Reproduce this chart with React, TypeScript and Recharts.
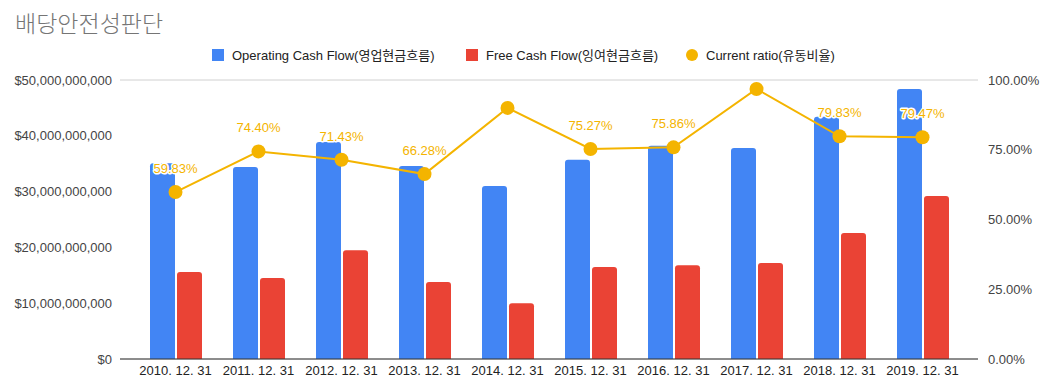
import React from 'react';
import { ComposedChart, Bar, Line, XAxis, YAxis, CartesianGrid, LabelList } from 'recharts';

const categories = ['2010. 12. 31', '2011. 12. 31', '2012. 12. 31', '2013. 12. 31', '2014. 12. 31', '2015. 12. 31', '2016. 12. 31', '2017. 12. 31', '2018. 12. 31', '2019. 12. 31'];
const operatingCashFlow = [35.1e9, 34.4e9, 38.9e9, 34.6e9, 31.0e9, 35.7e9, 38.2e9, 37.8e9, 43.4e9, 48.4e9];
const freeCashFlow = [15.6e9, 14.5e9, 19.5e9, 13.8e9, 10.0e9, 16.5e9, 16.8e9, 17.2e9, 22.6e9, 29.2e9];
const currentRatio = [59.83, 74.40, 71.43, 66.28, 90.0, 75.27, 75.86, 96.8, 79.83, 79.47];
const ratioLabels: (string | null)[] = ['59.83%', '74.40%', '71.43%', '66.28%', null, '75.27%', '75.86%', null, '79.83%', '79.47%'];
const leftTicks = [0, 10e9, 20e9, 30e9, 40e9, 50e9];
const rightTicks = [0, 25, 50, 75, 100];

const seriesNames = ['Operating Cash Flow(영업현금흐름)', 'Free Cash Flow(잉여현금흐름)', 'Current ratio(유동비율)'];
const BLUE = '#4285f4';
const RED = '#ea4335';
const YELLOW = '#f4b400';
const FONT = "'Liberation Sans', Arial, 'Noto Sans CJK KR', sans-serif";

const data = categories.map((c, i) => ({
  name: c,
  ocf: operatingCashFlow[i],
  fcf: freeCashFlow[i],
  ratio: currentRatio[i],
}));

const fmtMoney = (v: number) => '$' + v.toLocaleString('en-US');
const fmtPct = (v: number) => v.toFixed(2) + '%';

const RatioLabel = (props: any) => {
  const { x, y, index } = props;
  const text = ratioLabels[index];
  if (!text) return null;
  return (
    <text x={x} y={y - 19} textAnchor="middle" fill={YELLOW} fontSize={13} fontFamily={FONT}
      stroke="#fff" strokeWidth={3} paintOrder="stroke" strokeLinejoin="round">
      {text}
    </text>
  );
};

const legendItem = (color: string, round: boolean, label: string, left: number) => (
  <div style={{ position: 'absolute', left, top: 0, display: 'flex', alignItems: 'center', whiteSpace: 'nowrap' }}>
    <span style={{ width: 12, height: 12, background: color, borderRadius: round ? '50%' : 0, display: 'inline-block', marginRight: 8 }} />
    <span>{label}</span>
  </div>
);

export default function App() {
  return (
    <div style={{ position: 'absolute', left: 0, top: 0, width: 1046, height: 383, background: '#fff' }}>
      <div style={{ position: 'absolute', left: 15, top: 5, fontFamily: "'Noto Sans CJK KR', sans-serif", fontWeight: 300, fontSize: 23, color: '#757575' }}>배당안전성판단</div>
      <div style={{ position: 'absolute', left: 0, top: 45, width: 1046, height: 18, fontFamily: FONT, fontSize: 13, color: '#222' }}>
        {legendItem(BLUE, false, seriesNames[0], 212)}
        {legendItem(RED, false, seriesNames[1], 466)}
        {legendItem(YELLOW, true, seriesNames[2], 686)}
      </div>
      <ComposedChart width={1046} height={383} data={data}
        margin={{ top: 80, right: 0, bottom: 0, left: 0 }}
        barCategoryGap={15} barGap={2}>
        <CartesianGrid vertical={false} stroke="#d0d0d0" />
        <XAxis dataKey="name" tickLine={false} axisLine={{ stroke: '#333' }}
          padding={{ left: 14, right: 14 }} height={24} interval={0}
          tick={{ fill: '#222', fontSize: 13, fontFamily: FONT }} tickMargin={1} />
        <YAxis yAxisId="left" orientation="left" width={120} domain={[0, 50e9]} ticks={leftTicks}
          tickFormatter={fmtMoney} tickLine={false} axisLine={false}
          tick={{ fill: '#444', fontSize: 13, fontFamily: FONT }} tickMargin={2} />
        <YAxis yAxisId="right" orientation="right" width={68} domain={[0, 100]} ticks={rightTicks}
          tickFormatter={fmtPct} tickLine={false} axisLine={false}
          tick={{ fill: '#444', fontSize: 13, fontFamily: FONT }} tickMargin={4} />
        <Bar yAxisId="left" dataKey="ocf" name={seriesNames[0]} fill={BLUE} barSize={25} radius={[3, 3, 0, 0]} isAnimationActive={false} />
        <Bar yAxisId="left" dataKey="fcf" name={seriesNames[1]} fill={RED} barSize={25} radius={[3, 3, 0, 0]} isAnimationActive={false} />
        <Line yAxisId="right" dataKey="ratio" name={seriesNames[2]} stroke={YELLOW} strokeWidth={2}
          dot={{ r: 7, fill: YELLOW, stroke: YELLOW, strokeWidth: 0 }} activeDot={false} isAnimationActive={false}>
          <LabelList dataKey="ratio" content={<RatioLabel />} />
        </Line>
      </ComposedChart>
    </div>
  );
}
